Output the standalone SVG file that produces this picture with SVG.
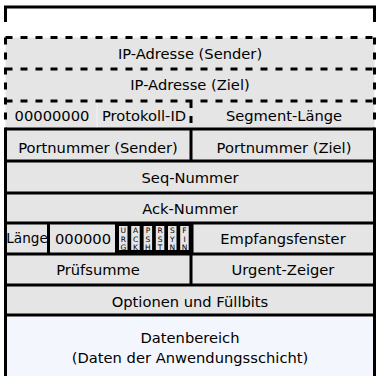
<svg xmlns="http://www.w3.org/2000/svg" width="376" height="376" viewBox="0 0 376 376">
<style>
text{font-family:"DejaVu Sans","Liberation Sans",sans-serif;font-size:14.7px;fill:#000;text-anchor:middle}
.f{fill:#e5e5e5}
.d{fill:none;stroke:#000;stroke-width:3;stroke-dasharray:7,8}
.s{fill:none;stroke:#000;stroke-width:3}
.fl{fill:#e5e5e5}
text.fl-t{font-size:7.5px}
</style>
<rect x="0" y="0" width="376" height="376" fill="#fff"/>
<g id="top-box"><path class="s" d="M5.5,22 V7 H374.5 V22"/></g>
<g id="pseudo-header">
<rect class="f" x="5.5" y="37.5" width="369" height="91.5"/>
<g id="ip-sender"><text x="190" y="59">IP-Adresse (Sender)</text></g>
<g id="ip-ziel"><text x="190" y="90">IP-Adresse (Ziel)</text></g>
<g id="zero8"><text x="52" y="121">00000000</text></g>
<g id="protokoll"><text x="144" y="121">Protokoll-ID</text></g>
<g id="seglen"><text x="284" y="121">Segment-Länge</text></g>
<line x1="97" y1="102" x2="97" y2="128" stroke="#f4f4f4" stroke-width="1"/>
</g>
<g id="tcp-header">
<rect class="f" x="5.5" y="129" width="369" height="186"/>
<rect x="115" y="223" width="77" height="31" fill="#000"/>
</g>
<g id="flags">
<rect class="fl" x="119" y="226" width="8.5" height="24"/>
<rect class="fl" x="131.2" y="226" width="8.5" height="24"/>
<rect class="fl" x="143.6" y="226" width="8.5" height="24"/>
<rect class="fl" x="155.8" y="226" width="8.5" height="24"/>
<rect class="fl" x="168" y="226" width="8.5" height="24"/>
<rect class="fl" x="180.2" y="226" width="8.5" height="24"/>
<g>
<text class="fl-t" x="123.3" y="233.3">U</text><text class="fl-t" x="123.3" y="241.5">R</text><text class="fl-t" x="123.3" y="249.5">G</text>
<text class="fl-t" x="135.5" y="233.3">A</text><text class="fl-t" x="135.5" y="241.5">C</text><text class="fl-t" x="135.5" y="249.5">K</text>
<text class="fl-t" x="147.9" y="233.3">P</text><text class="fl-t" x="147.9" y="241.5">S</text><text class="fl-t" x="147.9" y="249.5">H</text>
<text class="fl-t" x="160.1" y="233.3">R</text><text class="fl-t" x="160.1" y="241.5">S</text><text class="fl-t" x="160.1" y="249.5">T</text>
<text class="fl-t" x="172.3" y="233.3">S</text><text class="fl-t" x="172.3" y="241.5">Y</text><text class="fl-t" x="172.3" y="249.5">N</text>
<text class="fl-t" x="184.5" y="233.3">F</text><text class="fl-t" x="184.5" y="241.5">I</text><text class="fl-t" x="184.5" y="249.5">N</text>
</g>
</g>
<g id="port-sender"><text x="98" y="153">Portnummer (Sender)</text></g>
<g id="port-ziel"><text x="284" y="153">Portnummer (Ziel)</text></g>
<g id="seq"><text x="190" y="183">Seq-Nummer</text></g>
<g id="ack"><text x="190" y="214">Ack-Nummer</text></g>
<g id="laenge"><text x="27" y="243" style="font-size:13.6px">Länge</text></g>
<g id="zero6"><text x="83" y="244">000000</text></g>
<g id="fenster"><text x="283" y="244">Empfangsfenster</text></g>
<g id="pruef"><text x="98" y="275">Prüfsumme</text></g>
<g id="urgent"><text x="283" y="275">Urgent-Zeiger</text></g>
<g id="optionen"><text x="190" y="307">Optionen und Füllbits</text></g>
<g id="daten">
<rect x="5.5" y="315" width="369" height="62" fill="#f4f6fd"/>
<text x="190" y="343">Datenbereich</text>
<text x="190" y="363">(Daten der Anwendungsschicht)</text>
</g>
<g id="lines">
<path class="d" d="M5.5,37.5 H374.5 M5.5,69 H374.5 M5.5,101 H374.5 M5.5,37.5 V129 M374.5,37.5 V129 M191,101 V129"/>
<path class="s" d="M5.5,129 H374.5 M5.5,161 H374.5 M5.5,193 H374.5 M5.5,223 H374.5 M5.5,254 H374.5 M5.5,285 H374.5 M5.5,315 H374.5 M5.5,129 V376 M374.5,129 V376 M191,129 V161 M191,254 V285 M192,223 V254 M48.5,223 V254"/>
</g>
</svg>
